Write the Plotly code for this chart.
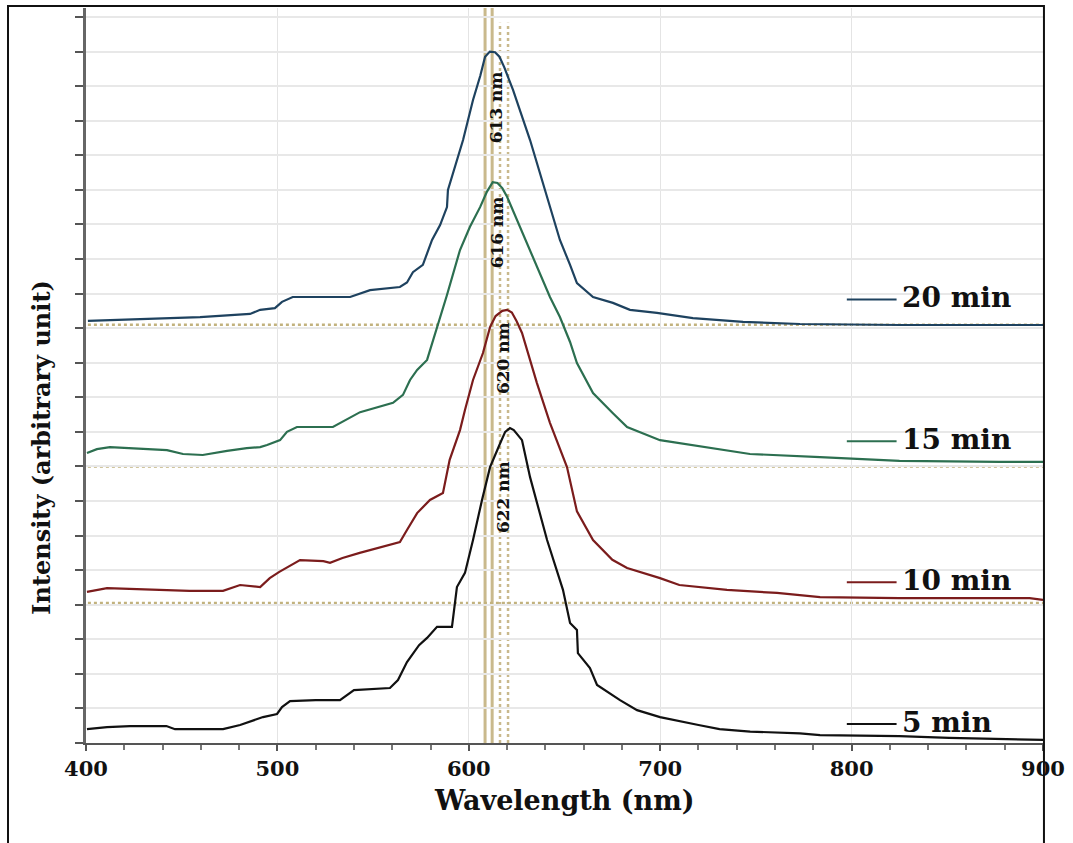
import plotly.graph_objects as go

# ---------------- data ----------------
wl_5 = [400.5, 411, 423, 442, 446.5, 471.6, 480.5, 492.5, 499.8, 502.4, 506.6, 520, 532.7, 540, 558.8,
        563, 567.7, 574, 578.2, 583.4, 591.2, 593.8, 598, 602.2, 606.9, 611.1, 616, 619, 621.5, 623.5,
        627.8, 632, 640.9, 646, 649.2, 652.9, 656.5, 657, 663.3, 667, 679, 687.9, 699.9, 720, 731, 747,
        773, 783.5, 825, 851, 877, 900]
int_5 = [0.40, 0.46, 0.49, 0.49, 0.40, 0.40, 0.52, 0.75, 0.84, 1.04, 1.21, 1.24, 1.24, 1.53, 1.59,
         1.82, 2.34, 2.83, 3.04, 3.36, 3.36, 4.51, 4.92, 5.87, 7.03, 7.98, 8.62, 9.00, 9.11, 9.05,
         8.76, 7.69, 5.87, 5.00, 4.43, 3.47, 3.27, 2.60, 2.17, 1.68, 1.24, 0.95, 0.75, 0.52, 0.40, 0.33,
         0.28, 0.23, 0.20, 0.15, 0.12, 0.09]

wl_10 = [400.5, 411, 454, 471.6, 480.5, 491, 496, 501, 511.8, 524, 527.5, 534, 543, 564, 567.7, 573,
         579.7, 586.5, 590, 595.4, 598, 602.2, 607.4, 611.1, 614, 617.5, 620, 622.5, 625, 627.8, 635.6,
         642.4, 651.3, 656.5, 664.9, 675, 682.7, 699.9, 710, 734.9, 761, 783.5, 825, 877, 893, 900]
int_10 = [4.37, 4.48, 4.40, 4.40, 4.57, 4.51, 4.77, 4.95, 5.29, 5.26, 5.21, 5.35, 5.50, 5.81, 6.16, 6.65,
          7.03, 7.23, 8.19, 9.05, 9.63, 10.50, 11.28, 12.03, 12.35, 12.50, 12.53, 12.45, 12.20, 11.86, 10.41,
          9.26, 7.98, 6.70, 5.87, 5.30, 5.06, 4.77, 4.57, 4.43, 4.34, 4.22, 4.19, 4.19, 4.19, 4.14]

wl_15 = [400.5, 405.7, 412.5, 442.3, 450.7, 461, 473.7, 484, 491, 494.6, 501.4, 505, 510.2, 529, 543.2,
         560.4, 565.6, 569.3, 573, 578.2, 588.6, 595.4, 600.6, 605.9, 609.5, 612.5, 615, 617.5, 620, 626.7,
         637.2, 642.4, 647.6, 652.9, 656.5, 664.9, 675.3, 682.7, 699.9, 725.7, 746.9, 783.5, 825, 877, 900]
int_15 = [8.39, 8.50, 8.56, 8.47, 8.36, 8.33, 8.45, 8.53, 8.56, 8.62, 8.76, 9.00, 9.14, 9.14, 9.57,
          9.84, 10.07, 10.50, 10.79, 11.08, 12.96, 14.26, 14.93, 15.50, 15.95, 16.22, 16.20, 16.05, 15.80, 14.93,
          13.62, 12.90, 12.32, 11.60, 10.99, 10.12, 9.54, 9.14, 8.76, 8.53, 8.36, 8.27, 8.16, 8.13, 8.13]

wl_20 = [401, 433.4, 459.6, 485.7, 491, 498.7, 502.4, 508, 538, 548.4, 564, 567.7, 570.8, 576, 580.8,
         585, 588.6, 589.1, 593.8, 597, 602.2, 606, 608.5, 611, 613.7, 616, 618.5, 623.1, 632, 642.4, 647.6,
         652.9, 656.5, 664.9, 675.3, 684.2, 698.3, 717.1, 743.3, 773, 825, 900]
int_20 = [12.21, 12.26, 12.32, 12.41, 12.53, 12.58, 12.76, 12.90, 12.90, 13.10, 13.19, 13.32, 13.62, 13.83,
          14.55, 14.98, 15.50, 16.00, 16.86, 17.44, 18.60, 19.30, 19.85, 20.00, 19.98, 19.85, 19.55, 18.89,
          17.44, 15.50, 14.55, 13.83, 13.30, 12.90, 12.73, 12.53, 12.44, 12.29, 12.18, 12.12, 12.09, 12.09]

series_names = ["5 min", "10 min", "15 min", "20 min"]
series_colors = ["#111111", "#7b1c1c", "#2c6f50", "#1e425f"]
baselines = [12.1, 8.0, 4.05]                 # dotted reference lines (20, 15, 10 min)
peak_labels = ["613 nm", "616 nm", "620 nm", "622 nm"]
ref_solid = [608.5, 612.2]                     # solid vertical peak markers
ref_dotted = [616.3, 620.5]                    # dotted vertical peak markers
x_ticks = [400, 500, 600, 700, 800, 900]

# ---------------- figure ----------------
SERIF = "DejaVu Serif"
TAN = "#c9b98c"
INK = "#111111"


def bfont(size):
    return dict(family=SERIF, size=size, color=INK, weight="bold")


fig = go.Figure()

# vertical peak markers
for xv in ref_solid:
    fig.add_shape(type="line", xref="x", yref="paper", x0=xv, x1=xv, y0=0, y1=1.0,
                  line=dict(color=TAN, width=3), layer="below")
for xv in ref_dotted:
    fig.add_shape(type="line", xref="x", yref="paper", x0=xv, x1=xv, y0=0, y1=0.98,
                  line=dict(color=TAN, width=2.5, dash="dot"), layer="below")

# horizontal dotted baselines
for yv in baselines:
    fig.add_shape(type="line", xref="x", yref="y", x0=401, x1=900, y0=yv, y1=yv,
                  line=dict(color="#c2b27e", width=2.5, dash="dot"), layer="below")

data = [(wl_5, int_5), (wl_10, int_10), (wl_15, int_15), (wl_20, int_20)]
for (xs, ys), name, col in zip(data, series_names, series_colors):
    fig.add_trace(go.Scatter(x=xs, y=ys, mode="lines", name=name,
                             line=dict(color=col, width=2.2), showlegend=False))

# peak labels (rotated)
peak_x = [613.9, 614.9, 618.0, 618.0]
peak_y = [18.4, 14.78, 11.14, 7.12]
for lab, px, py in zip(peak_labels, peak_x, peak_y):
    fig.add_annotation(x=px, y=py, xref="x", yref="y", text=lab, textangle=-90,
                       showarrow=False, font=bfont(17))

# custom legend entries on the right
leg_y = [0.6, 4.7, 8.78, 12.88]
for name, col, ly in zip(series_names, series_colors, leg_y):
    fig.add_shape(type="line", xref="x", yref="y", x0=797.5, x1=823.5, y0=ly - 0.05, y1=ly - 0.05,
                  line=dict(color=col, width=2))
    fig.add_annotation(x=825.5, y=ly, xref="x", yref="y", text=name, showarrow=False,
                       xanchor="left", yanchor="middle", font=bfont(28))

# axis titles
fig.add_annotation(x=0.5, y=-0.0776, xref="paper", yref="paper", text="Wavelength (nm)",
                   showarrow=False, xanchor="center", yanchor="middle", font=bfont(27))
fig.add_annotation(x=-0.046, y=0.403, xref="paper", yref="paper", text="Intensity (arbitrary unit)",
                   showarrow=False, textangle=-90, xanchor="center", yanchor="middle", font=bfont(24))

# outer frame
fig.add_shape(type="rect", xref="paper", yref="paper", x0=-0.0815, x1=1.001, y0=-0.145, y1=1.0027,
              line=dict(color=INK, width=2), fillcolor="rgba(0,0,0,0)")

fig.update_layout(
    width=1073, height=843,
    margin=dict(l=86, r=30, t=8, b=100),
    paper_bgcolor="white", plot_bgcolor="white",
    font=dict(family=SERIF),
    showlegend=False,
)
fig.update_xaxes(
    range=[400, 900], tickvals=x_ticks, ticktext=[str(v) for v in x_ticks],
    showline=True, linecolor="#555555", linewidth=2,
    ticks="outside", ticklen=6, tickwidth=2, tickcolor="#555555",
    minor=dict(dtick=20, ticks="outside", ticklen=5, tickwidth=1.5, tickcolor="#777777", showgrid=False),
    showgrid=True, gridcolor="#e4e4e4", gridwidth=1.2,
    tickfont=bfont(21),
    zeroline=False,
)
fig.update_yaxes(
    range=[0, 21.26], dtick=1, tick0=0,
    showline=True, linecolor="#666666", linewidth=3,
    ticks="outside", ticklen=8, tickwidth=2, tickcolor="#555555",
    showticklabels=False,
    showgrid=True, gridcolor="#e8e8e8", gridwidth=1.5,
    zeroline=False,
)

fig.write_html("out.html")
